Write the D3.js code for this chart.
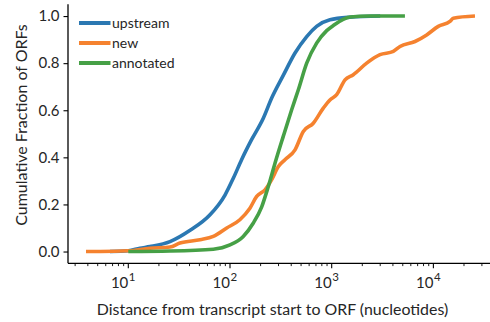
<!DOCTYPE html>
<html>
<head>
<meta charset="utf-8">
<script src="https://cdn.jsdelivr.net/npm/d3@7"></script>
<style>
  html, body { margin: 0; padding: 0; background: #fff; }
  svg { display: block; }
  text { font-family: Lato, "Open Sans", sans-serif; fill: #262626; }
</style>
</head>
<body>
<svg id="chart" width="490" height="322"></svg>
<script>
// ---- data ----
const seriesNames = ["upstream", "new", "annotated"];
const seriesColors = ["#2b78b2", "#f5822f", "#46a046"];

const upstreamDist = [6.6, 10, 13, 16.3, 25.7, 40.5, 63.6, 89.3, 108, 130, 163, 212, 257, 334, 436, 568, 711, 961, 1510, 3000];
const upstreamFrac = [0, 0.003, 0.014, 0.021, 0.042, 0.09, 0.156, 0.24, 0.312, 0.39, 0.475, 0.565, 0.652, 0.748, 0.843, 0.913, 0.956, 0.984, 0.995, 1.0];

const newDist = [3.84, 5.3, 10, 16.3, 25.7, 32.2, 50.7, 68.5, 92.9, 125, 157, 183, 221, 257, 299, 347, 436, 526, 659, 827, 961, 1119, 1352, 1631, 2207, 2985, 4038, 4697, 6596, 8590, 11170, 14550, 15700, 25640];
const newFrac = [0, 0, 0.003, 0.014, 0.019, 0.036, 0.05, 0.064, 0.1, 0.135, 0.184, 0.234, 0.262, 0.305, 0.361, 0.39, 0.432, 0.51, 0.545, 0.609, 0.644, 0.666, 0.729, 0.751, 0.8, 0.836, 0.85, 0.871, 0.892, 0.92, 0.956, 0.977, 0.991, 1.0];

const annotatedDist = [10, 25.7, 68.5, 100, 135, 169, 205, 238, 277, 334, 404, 470, 568, 711, 893, 1038, 1514, 2380, 5250];
const annotatedFrac = [0, 0.002, 0.01, 0.028, 0.064, 0.12, 0.19, 0.276, 0.375, 0.489, 0.602, 0.687, 0.8, 0.885, 0.938, 0.96, 0.996, 1.0, 1.0];

const yTicks = [0.0, 0.2, 0.4, 0.6, 0.8, 1.0];
const xMajorTicks = [10, 100, 1000, 10000];
const xTickExponents = ["1", "2", "3", "4"];
const xLabel = "Distance from transcript start to ORF (nucleotides)";
const yLabel = "Cumulative Fraction of ORFs";

// ---- layout ----
const svg = d3.select("#chart");
const mLeft = 68, mRight = 494.4, mTop = 4.3, mBottom = 263.3;

const x = d3.scaleLog().domain([Math.pow(10, 0.407), Math.pow(10, 4.6)]).range([mLeft, mRight]);
const y = d3.scaleLinear().domain([-0.05, 1.05]).range([mBottom, mTop]);

const series = [
  {name: seriesNames[0], color: seriesColors[0], xs: upstreamDist, ys: upstreamFrac},
  {name: seriesNames[1], color: seriesColors[1], xs: newDist, ys: newFrac},
  {name: seriesNames[2], color: seriesColors[2], xs: annotatedDist, ys: annotatedFrac}
];

const line = d3.line().x(d => x(d[0])).y(d => y(d[1])).curve(d3.curveMonotoneX);

series.forEach(s => {
  svg.append("path")
    .datum(s.xs.map((v, i) => [v, s.ys[i]]))
    .attr("d", line)
    .attr("fill", "none")
    .attr("stroke", s.color)
    .attr("stroke-width", 3.6)
    .attr("stroke-linejoin", "round");
});

// y axis
const yAxis = d3.axisLeft(y).tickValues(yTicks).tickFormat(d3.format(".1f")).tickSize(4.5).tickPadding(4);
const gy = svg.append("g").attr("transform", `translate(${mLeft},0)`).call(yAxis);
gy.select(".domain").attr("d", `M0,${mTop}V${mBottom}`).attr("stroke", "#000").attr("stroke-width", 1.3);
gy.selectAll(".tick line").attr("stroke", "#000").attr("stroke-width", 1.1);
gy.selectAll(".tick text").style("font-size", "15px").attr("fill", "#262626").style("font-family", "Lato, sans-serif");

// x axis (minor + major ticks)
const minorTicks = [];
for (let e = 0; e <= 4; e++) {
  for (let m = 2; m <= 9; m++) {
    const v = m * Math.pow(10, e);
    if (v >= x.domain()[0] && v <= x.domain()[1]) minorTicks.push(v);
  }
}
const gx = svg.append("g").attr("transform", `translate(0,${mBottom})`);
gx.append("line").attr("x1", mLeft).attr("x2", 490).attr("y1", 0).attr("y2", 0)
  .attr("stroke", "#000").attr("stroke-width", 1.3);
gx.selectAll(".minor").data(minorTicks).join("line")
  .attr("x1", d => x(d)).attr("x2", d => x(d)).attr("y1", 0).attr("y2", 2.8)
  .attr("stroke", "#000").attr("stroke-width", 0.9);
gx.selectAll(".major").data(xMajorTicks).join("line")
  .attr("x1", d => x(d)).attr("x2", d => x(d)).attr("y1", 0).attr("y2", 5)
  .attr("stroke", "#000").attr("stroke-width", 1.1);
xMajorTicks.forEach((t, i) => {
  gx.append("text").attr("x", x(t)).attr("y", 25).attr("text-anchor", "end")
    .style("font-size", "15px").text("10");
  gx.append("text").attr("x", x(t) + 0.5).attr("y", 17.5).attr("text-anchor", "start")
    .style("font-size", "11.5px").text(xTickExponents[i]);
});

// axis labels
svg.append("text").attr("x", 272.5).attr("y", 315).attr("text-anchor", "middle")
  .style("font-size", "15.9px").text(xLabel);
svg.append("text").attr("transform", `translate(27,125) rotate(-90)`).attr("text-anchor", "middle")
  .style("font-size", "16px").text(yLabel);

// legend
const legY = [23, 43, 63];
series.forEach((s, i) => {
  svg.append("line").attr("x1", 79).attr("x2", 110.5).attr("y1", legY[i]).attr("y2", legY[i])
    .attr("stroke", s.color).attr("stroke-width", 4);
  svg.append("text").attr("x", 112).attr("y", legY[i] + 4.5)
    .style("font-size", "14px").text(s.name);
});
</script>
</body>
</html>
